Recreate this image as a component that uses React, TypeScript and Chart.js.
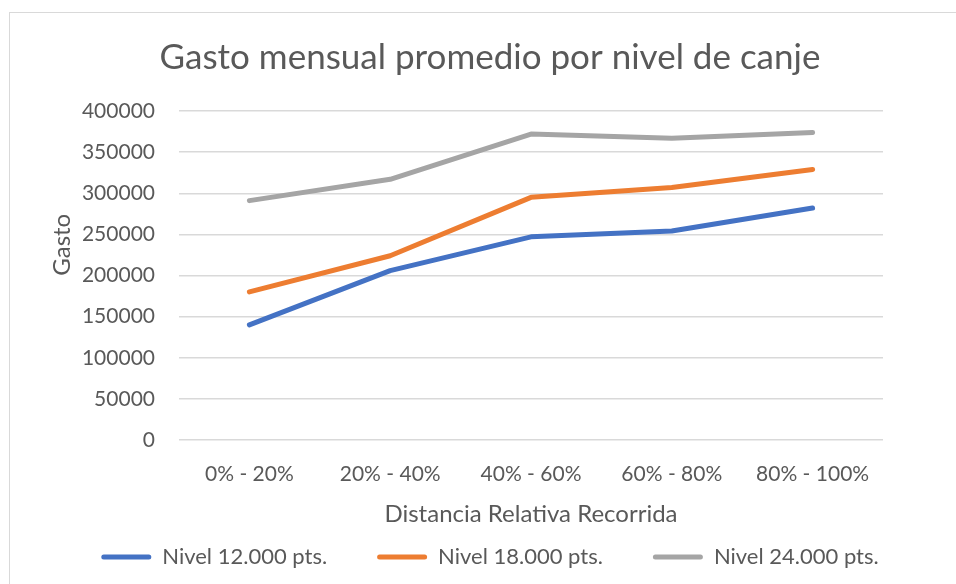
import React, { useEffect, useRef } from "react";
import { Chart, registerables } from "chart.js";

Chart.register(...registerables);

// Categories along the x axis (relative distance travelled)
const categories = ["0% - 20%", "20% - 40%", "40% - 60%", "60% - 80%", "80% - 100%"];

// Average monthly spend per redemption level
const nivel12 = [140000, 206000, 247000, 254000, 282000];
const nivel18 = [180000, 224000, 295000, 307000, 329000];
const nivel24 = [291000, 317000, 372000, 367000, 374000];

const seriesNames = ["Nivel 12.000 pts.", "Nivel 18.000 pts.", "Nivel 24.000 pts."];
const seriesColors = ["#4472C4", "#ED7D31", "#A5A5A5"];

// Value axis range
const yMin = 0;
const yMax = 400000;
const yStep = 50000;

const TEXT = "#595959";
const GRID = "#D9D9D9";
const FONT = "Lato, 'Open Sans', sans-serif";

const CANVAS_W = 960;
const CANVAS_H = 565;
const LEGEND_GAP = 50;

export default function App() {
  const ref = useRef<HTMLCanvasElement>(null);

  useEffect(() => {
    const canvas = ref.current;
    if (!canvas) return;
    const series = [nivel12, nivel18, nivel24];
    const xHeight = 106 - LEGEND_GAP;
    const chart = new Chart(canvas, {
      type: "line",
      data: {
        labels: categories,
        datasets: series.map((d, i) => ({
          label: seriesNames[i],
          data: d,
          borderColor: seriesColors[i],
          backgroundColor: seriesColors[i],
          borderWidth: 5,
          borderCapStyle: "round",
          borderJoinStyle: "round",
          pointRadius: 0,
          pointHoverRadius: 0,
          tension: 0,
          fill: false,
        })),
      },
      options: {
        responsive: false,
        animation: false,
        devicePixelRatio: 1,
        layout: { padding: 0 },
        plugins: {
          title: {
            display: true,
            text: "Gasto mensual promedio por nivel de canje",
            color: TEXT,
            font: { family: FONT, size: 35, weight: "normal" },
            padding: { top: 24, bottom: 32 },
          },
          legend: {
            position: "bottom",
            labels: {
              color: TEXT,
              font: { family: FONT, size: 22 },
              boxWidth: 50,
              boxHeight: 5,
              padding: LEGEND_GAP,
              useBorderRadius: true,
              borderRadius: 2.5,
              generateLabels: (c: any) =>
                Chart.defaults.plugins.legend.labels
                  .generateLabels(c)
                  .map((l: any) => ({ ...l, lineWidth: 0 })),
            },
          },
          tooltip: { enabled: false },
        },
        scales: {
          x: {
            offset: true,
            grid: { display: false, offset: true },
            border: { display: false },
            ticks: {
              color: TEXT,
              font: { family: FONT, size: 21 },
              padding: 14,
              maxRotation: 0,
            },
            title: {
              display: true,
              text: "Distancia Relativa Recorrida",
              color: TEXT,
              font: { family: FONT, size: 24 },
              padding: { top: 0, bottom: 17.6 - LEGEND_GAP },
            },
            afterFit: (s: any) => {
              s.height = xHeight;
            },
          },
          y: {
            min: yMin,
            max: yMax,
            grid: { color: GRID, lineWidth: 1.5, drawTicks: false },
            border: { display: false },
            ticks: {
              stepSize: yStep,
              color: TEXT,
              font: { family: FONT, size: 21 },
              padding: 24,
              callback: (v: any) => String(v),
            },
            title: {
              display: true,
              text: "          Gasto",
              color: TEXT,
              font: { family: FONT, size: 24 },
              padding: { top: 37.6, bottom: 0 },
            },
            afterFit: (s: any) => {
              s.width = 169;
            },
          },
          spacer: {
            type: "linear",
            position: "right",
            display: true,
            ticks: { display: false },
            grid: { display: false },
            border: { display: false },
            afterFit: (s: any) => {
              s.width = 87;
            },
          },
        },
      },
    } as any);
    return () => chart.destroy();
  }, []);

  return (
    <div
      style={{
        position: "fixed",
        left: 0,
        top: 0,
        width: 956,
        height: 584,
        overflow: "hidden",
        background: "#ffffff",
      }}
    >
      <div
        style={{
          position: "absolute",
          left: 9,
          top: 12,
          width: CANVAS_W,
          height: 600,
          border: "1px solid #D9D9D9",
          background: "#ffffff",
        }}
      >
        <canvas ref={ref} width={CANVAS_W} height={CANVAS_H} style={{ display: "block" }} />
      </div>
    </div>
  );
}
